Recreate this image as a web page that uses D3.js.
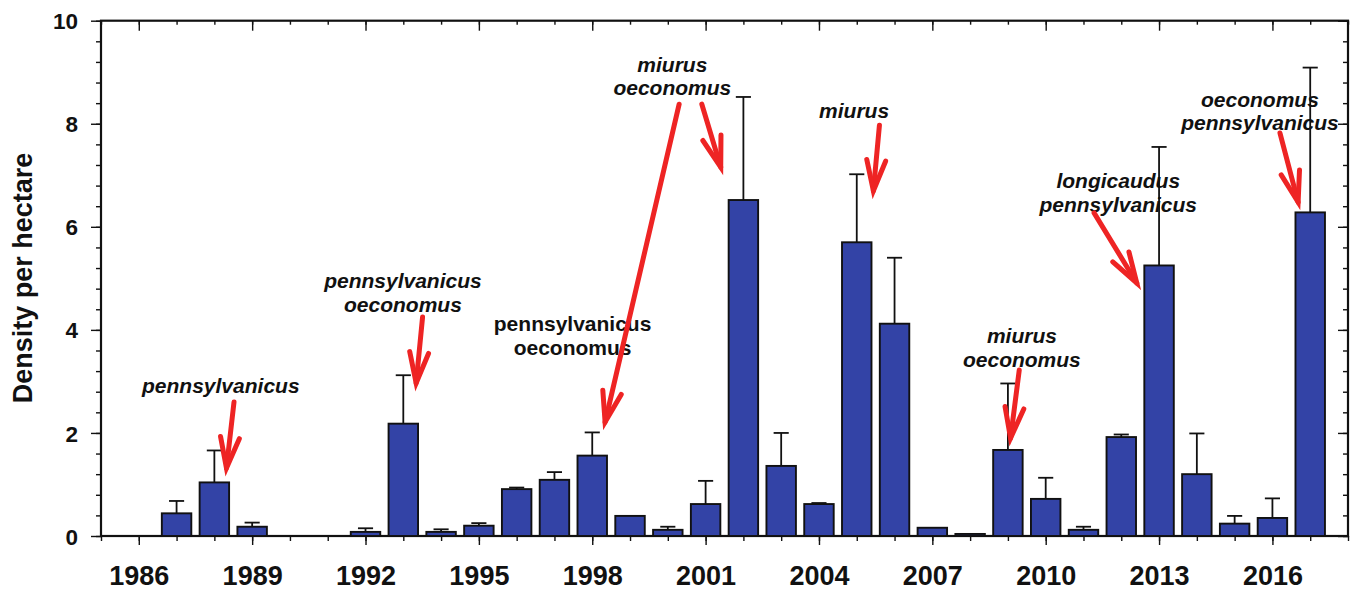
<!DOCTYPE html>
<html>
<head>
<meta charset="utf-8">
<script src="https://cdn.jsdelivr.net/npm/d3@7"></script>
<style>
  html, body { margin: 0; padding: 0; background: #fff; }
  svg { display: block; font-family: "Liberation Sans", Arial, sans-serif; }
</style>
</head>
<body>
<svg id="chart" width="1357" height="590"></svg>
<script>
// Annual density (per hectare) with standard error
const years   = [1987, 1988, 1989, 1990, 1991, 1992, 1993, 1994, 1995, 1996, 1997, 1998, 1999, 2000, 2001, 2002,
                 2003, 2004, 2005, 2006, 2007, 2008, 2009, 2010, 2011, 2012, 2013, 2014, 2015, 2016, 2017];
const density = [0.44, 1.04, 0.18, null, null, 0.08, 2.18, 0.08, 0.20, 0.91, 1.09, 1.56, 0.39, 0.12, 0.62, 6.52,
                 1.36, 0.62, 5.70, 4.12, 0.16, 0.04, 1.67, 0.72, 0.12, 1.92, 5.25, 1.20, 0.24, 0.35, 6.28];
const stdErr  = [0.24, 0.62, 0.08, null, null, 0.07, 0.94, 0.05, 0.05, 0.03, 0.15, 0.45, 0, 0.06, 0.45, 2.00,
                 0.64, 0.02, 1.32, 1.28, 0, 0, 1.29, 0.41, 0.06, 0.05, 2.30, 0.79, 0.15, 0.38, 2.81];

const xTickLabels = [1986, 1989, 1992, 1995, 1998, 2001, 2004, 2007, 2010, 2013, 2016];
const yTickLabels = [0, 2, 4, 6, 8, 10];

// Species annotations: label lines, anchor (year, value) of first baseline, italic or not
const notes = [
  { lines: ["pennsylvanicus"],               x: 1988.17, y: 2.78, italic: true },
  { lines: ["pennsylvanicus", "oeconomus"],  x: 1992.99, y: 4.81, italic: true },
  { lines: ["pennsylvanicus", "oeconomus"],  x: 1997.48, y: 3.97, italic: false },
  { lines: ["miurus", "oeconomus"],          x: 2000.12, y: 9.01, italic: true },
  { lines: ["miurus"],                       x: 2004.93, y: 8.11, italic: true },
  { lines: ["miurus", "oeconomus"],          x: 2009.37, y: 3.74, italic: true },
  { lines: ["longicaudus", "pennsylvanicus"],x: 2011.92, y: 6.75, italic: true },
  { lines: ["oeconomus", "pennsylvanicus"],  x: 2015.67, y: 8.33, italic: true }
];

// Arrows from label to bar: [x0, y0, x1, y1] in (year, value)
const arrows = [
  [1988.52, 2.60, 1988.32, 1.32],
  [1993.51, 4.25, 1993.34, 2.97],
  [2000.30, 8.38, 1998.34, 2.21],
  [2000.90, 8.38, 2001.40, 7.16],
  [2005.60, 7.97, 2005.44, 6.70],
  [2009.30, 3.22, 2009.07, 1.90],
  [2011.28, 6.27, 2012.41, 4.91],
  [2016.20, 7.82, 2016.68, 6.48]
];

const svg = d3.select("#chart");
const plotLeft = 101, plotRight = 1348, plotTop = 20.7, plotBottom = 536;

const x = d3.scaleLinear().domain([1985, 2018]).range([plotLeft, plotRight]);
const y = d3.scaleLinear().domain([0, 10]).range([plotBottom, plotTop]);

const halfBar = 0.39;
const capHalf = 0.2;

const data = years.map((yr, i) => ({ year: yr, v: density[i], se: stdErr[i] }))
                  .filter(d => d.v != null);

const minorX = d3.range(1985, 2019);
const minorY = d3.range(0, 26).map(i => +(i * 0.4).toFixed(1));

// Axes with outward ticks on left/bottom
const gx = svg.append("g").attr("transform", `translate(0,${plotBottom})`);
gx.call(d3.axisBottom(x).tickValues(minorX).tickSize(5).tickFormat(""));
const gxMajor = gx.append("g").call(d3.axisBottom(x).tickValues(xTickLabels).tickSize(9).tickFormat(d3.format("d")));

const gy = svg.append("g").attr("transform", `translate(${plotLeft},0)`);
gy.call(d3.axisLeft(y).tickValues(minorY).tickSize(5).tickFormat(""));
const gyMajor = gy.append("g").call(d3.axisLeft(y).tickValues(yTickLabels).tickSize(10).tickFormat(d3.format("d")));

// Inward ticks on top and right frame edges
const gt = svg.append("g").attr("transform", `translate(0,${plotTop})`);
gt.call(d3.axisBottom(x).tickValues(minorX).tickSize(4).tickFormat(""));
gt.append("g").call(d3.axisBottom(x).tickValues(xTickLabels).tickSize(10).tickFormat(""));
const gr = svg.append("g").attr("transform", `translate(${plotRight},0)`);
gr.call(d3.axisLeft(y).tickValues(minorY).tickSize(5).tickFormat(""));
gr.append("g").call(d3.axisLeft(y).tickValues(yTickLabels).tickSize(10).tickFormat(""));

svg.selectAll(".domain").remove();
svg.selectAll(".tick line").attr("stroke", "#111").attr("stroke-width", 1.4);

gxMajor.selectAll("text").attr("fill", "#111").style("font-size", "27px").style("font-weight", "bold")
  .attr("y", 49).attr("dy", null);
gyMajor.selectAll("text").attr("fill", "#111").style("font-size", "22.5px").style("font-weight", "bold")
  .attr("x", -23).attr("dy", "0.36em");

// Frame
svg.append("rect")
  .attr("x", plotLeft).attr("y", plotTop)
  .attr("width", plotRight - plotLeft).attr("height", plotBottom - plotTop)
  .attr("fill", "none").attr("stroke", "#111").attr("stroke-width", 2.2);

// Y axis title
svg.append("text")
  .attr("transform", `translate(32,278) rotate(-90)`)
  .attr("text-anchor", "middle")
  .style("font-size", "27px").style("font-weight", "bold")
  .attr("fill", "#111")
  .text("Density per hectare");

// Annotation labels
const lab = svg.append("g");
notes.forEach(n => {
  const t = lab.append("text")
    .attr("text-anchor", "middle")
    .attr("fill", "#111")
    .style("font-size", "21px").style("font-weight", "bold")
    .style("font-style", n.italic ? "italic" : "normal");
  n.lines.forEach((s, i) => {
    t.append("tspan").attr("x", x(n.x)).attr("y", y(n.y) + i * 23.4).text(s);
  });
});

// Error bars (upper only)
const eb = svg.append("g").attr("stroke", "#111").attr("stroke-width", 1.8).attr("fill", "none");
data.filter(d => d.se > 0).forEach(d => {
  eb.append("line")
    .attr("x1", x(d.year)).attr("x2", x(d.year))
    .attr("y1", y(d.v)).attr("y2", y(d.v + d.se));
  eb.append("line")
    .attr("x1", x(d.year - capHalf)).attr("x2", x(d.year + capHalf))
    .attr("y1", y(d.v + d.se)).attr("y2", y(d.v + d.se));
});

// Bars
svg.append("g").selectAll("rect")
  .data(data)
  .join("rect")
  .attr("x", d => x(d.year - halfBar))
  .attr("width", d => x(d.year + halfBar) - x(d.year - halfBar))
  .attr("y", d => y(d.v))
  .attr("height", d => y(0) - y(d.v))
  .attr("fill", "#3343a6")
  .attr("stroke", "#111")
  .attr("stroke-width", 1.9);

// Red arrows
const ag = svg.append("g").attr("stroke", "#ee2424").attr("stroke-width", 5)
  .attr("fill", "none").attr("stroke-linecap", "round").attr("stroke-linejoin", "miter");
arrows.forEach(([a, b, c, e]) => {
  const x0 = x(a), y0 = y(b), x1 = x(c), y1 = y(e);
  const ang = Math.atan2(y1 - y0, x1 - x0);
  const L = 32, spread = 0.3;
  const h1 = [x1 - L * Math.cos(ang - spread), y1 - L * Math.sin(ang - spread)];
  const h2 = [x1 - L * Math.cos(ang + spread), y1 - L * Math.sin(ang + spread)];
  ag.append("path").attr("d", `M${x0},${y0}L${x1},${y1}`);
  ag.append("path").attr("d", `M${h1[0]},${h1[1]}L${x1},${y1}L${h2[0]},${h2[1]}`);
});
</script>
</body>
</html>
